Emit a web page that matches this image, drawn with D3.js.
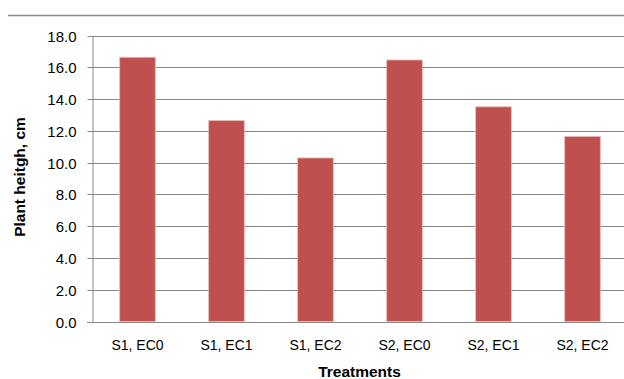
<!DOCTYPE html>
<html><head><meta charset="utf-8">
<script src="https://cdn.jsdelivr.net/npm/d3@7"></script>
<style>body{margin:0;background:#fff}svg{display:block}</style>
</head><body>
<script>
const categories = ["S1, EC0","S1, EC1","S1, EC2","S2, EC0","S2, EC1","S2, EC2"];
const values = [16.64, 12.65, 10.30, 16.47, 13.52, 11.65];
const yTicks = [0,2,4,6,8,10,12,14,16,18];
const yTitle = "Plant heitgh, cm";
const xTitle = "Treatments";

(function(){
const W = 624, H = 379;
const svg = d3.select("body").append("svg").attr("width", W).attr("height", H);
const mLeft = 92, mRight = 626, mTop = 35.7, mBottom = 321.5;
const font = "'Liberation Sans', Arial, sans-serif";
const grid = "#878787";

// top border line
svg.append("line").attr("x1", 8).attr("x2", W).attr("y1", 15.5).attr("y2", 15.5)
  .attr("stroke", "#8c8c8c").attr("stroke-width", 1.5);

const x = d3.scaleBand().domain(categories).range([mLeft + 1, mRight + 1]).paddingInner(0.6).paddingOuter(0.3);
const y = d3.scaleLinear().domain([0, 18]).range([mBottom, mTop]);

// gridlines
svg.append("g").selectAll("line").data(yTicks.filter(d => d > 0)).join("line")
  .attr("x1", mLeft).attr("x2", W).attr("y1", d => Math.round(y(d)) + 0.5).attr("y2", d => Math.round(y(d)) + 0.5)
  .attr("stroke", grid).attr("stroke-width", 1);

// y axis
const ya = svg.append("g").attr("transform", `translate(${mLeft + 0.5},0)`)
  .call(d3.axisLeft(y).tickValues(yTicks).tickFormat(d3.format(".1f")).tickSize(5).tickSizeOuter(0));
ya.select(".domain").attr("stroke", grid);
ya.selectAll(".tick line").attr("stroke", grid);
ya.selectAll(".tick").attr("transform", d => `translate(0,${Math.round(y(d)) + 0.5})`);
ya.selectAll("text").attr("x", -16).attr("font-family", font).attr("font-size", 15).attr("fill", "#000").attr("dy", "0.35em");

// bars
svg.append("g").selectAll("rect").data(values).join("rect")
  .attr("x", (d, i) => x(categories[i]))
  .attr("width", x.bandwidth())
  .attr("y", d => y(d))
  .attr("height", d => mBottom - y(d))
  .attr("fill", "#C0504D")
  .attr("stroke", "#e6b9b8").attr("stroke-width", 0.8);

// x axis
const xa = svg.append("g").attr("transform", `translate(0,${Math.round(mBottom) + 0.5})`)
  .call(d3.axisBottom(x).tickSize(0).tickSizeOuter(0));
xa.select(".domain").attr("stroke", grid).attr("d", `M${mLeft - 5},0H${W}`);
xa.selectAll("text").attr("y", 18).attr("font-family", font).attr("font-size", 14).attr("fill", "#000");

// titles
svg.append("text").attr("x", 359.5).attr("y", 377)
  .attr("text-anchor", "middle").attr("font-family", font).attr("font-size", 15.5).attr("font-weight", "bold")
  .text(xTitle);
svg.append("text").attr("transform", "translate(25,177) rotate(-90)")
  .attr("text-anchor", "middle").attr("font-family", font).attr("font-size", 15.5).attr("font-weight", "bold")
  .text(yTitle);
})();
</script>
</body></html>
